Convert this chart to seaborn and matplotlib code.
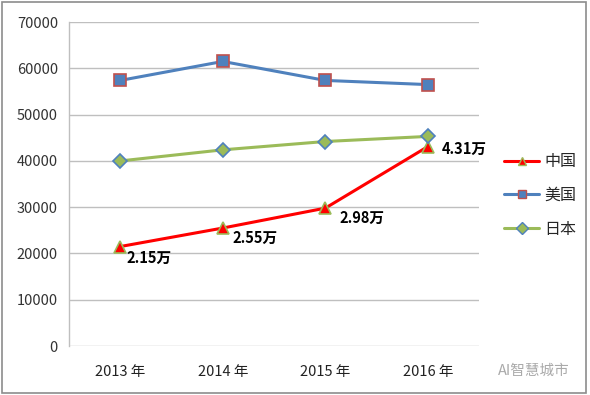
import pandas as pd
import seaborn as sns
import matplotlib.pyplot as plt
from matplotlib.lines import Line2D
from matplotlib.patches import Rectangle

# Data
years = ['2013 年', '2014 年', '2015 年', '2016 年']
china = [21500, 25500, 29800, 43100]
usa = [57400, 61500, 57400, 56500]
japan = [40000, 42400, 44200, 45300]
china_labels = ['2.15万', '2.55万', '2.98万', '4.31万']
y_ticks = [0, 10000, 20000, 30000, 40000, 50000, 60000, 70000]

sns.set_style("white")
plt.rcParams['font.family'] = ['Noto Sans CJK SC', 'DejaVu Sans']

fig = plt.figure(figsize=(5.9, 3.95), dpi=100)
ax = fig.add_axes([0.117, 0.124, 0.695, 0.82])

x = list(range(len(years)))
series = [
    ('中国', china, '#ff0000', '^', '#ff0000', '#9bbb59', 8.5),
    ('美国', usa, '#4f81bd', 's', '#4f81bd', '#c0504d', 8.5),
    ('日本', japan, '#9bbb59', 'D', '#9bbb59', '#4f81bd', 7.5),
]
legend_handles = []
for name, vals, color, marker, face, edge, ms in series:
    df = pd.DataFrame({'x': x, 'y': vals})
    sns.lineplot(data=df, x='x', y='y', ax=ax, color=color, linewidth=2.2,
                 marker=marker, markersize=ms, markerfacecolor=face,
                 markeredgecolor=edge, markeredgewidth=1.2)
    legend_handles.append(Line2D([0], [0], color=color, linewidth=2.2, marker=marker,
                                 markersize=ms * 0.75, markerfacecolor=face,
                                 markeredgecolor=edge, markeredgewidth=1.0, label=name))

# data labels for China
offsets = [(6, -11), (10, -10), (14, -10), (14, -2)]
for xi, v, lab, off in zip(x, china, china_labels, offsets):
    ax.annotate(lab, (xi, v), xytext=off, textcoords='offset pixels',
                ha='left', va='center', fontsize=10.5, fontweight='bold',
                color='black')

ax.set_xlim(-0.5, 3.5)
ax.set_ylim(0, 70000)
ax.set_yticks(y_ticks)
ax.set_yticklabels([str(t) for t in y_ticks], fontsize=10.5, color='#333333')
ax.set_xticks(x)
ax.set_xticklabels(years, fontsize=10.5, color='#222222')
ax.tick_params(axis='both', length=0, pad=8)
ax.tick_params(axis='x', pad=14)
ax.set_xlabel('')
ax.set_ylabel('')
ax.grid(axis='y', color='#bfbfbf', linewidth=1)
ax.set_axisbelow(True)
for s in ['top', 'right', 'bottom']:
    ax.spines[s].set_visible(False)
ax.spines['left'].set_color('#bfbfbf')
ax.spines['left'].set_linewidth(1)

fig.legend(handles=legend_handles, loc='center left', bbox_to_anchor=(0.83, 0.505),
           frameon=False, fontsize=11.5, labelspacing=1.05, handlelength=2.2,
           handletextpad=0.3)

# watermark
fig.text(0.965, 0.06, 'AI智慧城市', ha='right', va='center', fontsize=10.5,
         color='#aaaaaa')

# outer frame
fig.patches.append(Rectangle((0.003, 0.005), 0.99, 0.99, transform=fig.transFigure,
                             fill=False, edgecolor='#8c8c8c', linewidth=1.2))

fig.savefig('out.png', dpi=100)
